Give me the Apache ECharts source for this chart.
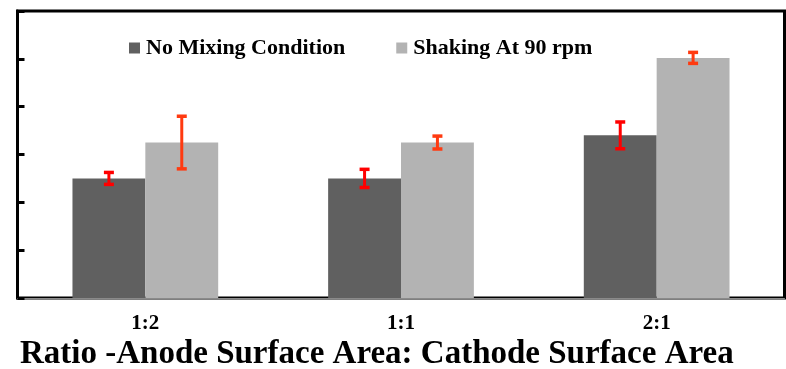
<!DOCTYPE html>
<html>
<head>
<meta charset="utf-8">
<script src="https://cdn.jsdelivr.net/npm/echarts@6/dist/echarts.min.js"></script>
<style>
  html, body { margin: 0; padding: 0; background: #fff; }
  #chart { width: 786px; height: 369px; }
</style>
</head>
<body>
<div id="chart"></div>
<script>
// Surface-area ratio groups
var categories = ['1:2', '1:1', '2:1'];
// Mean values per condition
var noMixing = [2.5, 2.5, 3.4];
var shaking = [3.25, 3.25, 5.02];
// Half-width of the error bars
var noMixingErr = [0.125, 0.19, 0.28];
var shakingErr = [0.55, 0.135, 0.115];
var seriesNames = ['No Mixing Condition', 'Shaking At 90 rpm'];
var xTitle = 'Ratio -Anode Surface Area: Cathode Surface Area';

var SERIF = '"Liberation Serif", "Times New Roman", serif';
var GAP_RATIO = 0.43; // barCategoryGap as a fraction

function errorData(values, errs) {
  return values.map(function (v, i) { return [i, v - errs[i], v + errs[i]]; });
}

function errorRenderer(side, color) {
  return function (params, api) {
    var idx = api.value(0);
    var lo = api.coord([idx, api.value(1)]);
    var hi = api.coord([idx, api.value(2)]);
    var catW = api.size([1, 0])[0];
    var barW = catW * (1 - GAP_RATIO) / 2;
    var x = lo[0] + side * barW / 2;
    var cap = 10;
    var style = { stroke: color, lineWidth: 3 };
    var capStyle = { stroke: color, lineWidth: 3.5 };
    return {
      type: 'group',
      children: [
        { type: 'line', shape: { x1: x, y1: hi[1], x2: x, y2: lo[1] }, style: style },
        { type: 'line', shape: { x1: x - cap / 2, y1: hi[1], x2: x + cap / 2, y2: hi[1] }, style: capStyle },
        { type: 'line', shape: { x1: x - cap / 2, y1: lo[1], x2: x + cap / 2, y2: lo[1] }, style: capStyle }
      ]
    };
  };
}

var chart = echarts.init(document.getElementById('chart'), null, { renderer: 'canvas' });
chart.setOption({
  animation: false,
  backgroundColor: '#ffffff',
  title: {
    text: xTitle,
    left: 20,
    top: 338,
    padding: 0,
    textStyle: { fontFamily: SERIF, fontWeight: 'bold', fontSize: 33, color: '#000' }
  },
  legend: {
    data: seriesNames,
    left: 124,
    top: 32,
    icon: 'rect',
    itemWidth: 11,
    itemHeight: 11,
    itemGap: 51,
    textStyle: { fontFamily: SERIF, fontWeight: 'bold', fontSize: 22, color: '#000', padding: [0, 0, 0, 1] }
  },
  grid: {
    left: 17.5,
    right: 1.5,
    top: 11,
    bottom: 71,
    show: true,
    borderColor: '#000',
    borderWidth: 3
  },
  xAxis: {
    type: 'category',
    data: categories,
    offset: 2,
    axisLine: { show: true, lineStyle: { color: '#8a8a8a', width: 1 } },
    axisTick: { show: false },
    axisLabel: {
      margin: 13,
      fontFamily: SERIF,
      fontWeight: 'bold',
      fontSize: 21,
      color: '#000'
    }
  },
  yAxis: {
    type: 'value',
    min: 0,
    max: 6,
    interval: 1,
    axisLine: { show: true, lineStyle: { color: '#000', width: 3 } },
    axisTick: { show: true, inside: true, length: 7, lineStyle: { color: '#000', width: 3 } },
    axisLabel: { show: false },
    splitLine: { show: false }
  },
  series: [
    {
      name: seriesNames[0],
      type: 'bar',
      data: noMixing,
      barGap: '0%',
      barCategoryGap: (GAP_RATIO * 100) + '%',
      itemStyle: { color: '#606060' }
    },
    {
      name: seriesNames[1],
      type: 'bar',
      data: shaking,
      itemStyle: { color: '#b3b3b3' }
    },
    {
      type: 'custom',
      renderItem: errorRenderer(-1, '#ff0000'),
      data: errorData(noMixing, noMixingErr),
      encode: { x: 0, y: [1, 2] },
      z: 5
    },
    {
      type: 'custom',
      renderItem: errorRenderer(1, '#ff3a10'),
      data: errorData(shaking, shakingErr),
      encode: { x: 0, y: [1, 2] },
      z: 5
    }
  ]
});
</script>
</body>
</html>
